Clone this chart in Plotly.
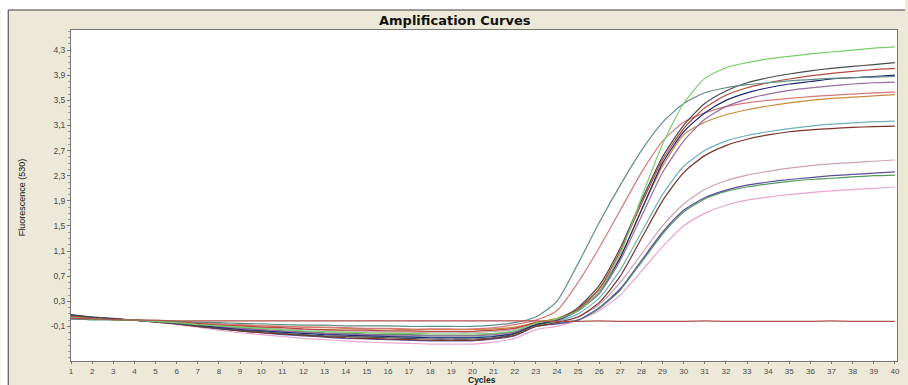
import plotly.graph_objects as go

cycles = list(range(1, 41))

green = [0.04, 0.02, 0.01, 0, -.02, -.04, -.07, -.09, -.11, -.13, -.15, -.17, -.18, -.19, -.20, -.21, -.21, -.22, -.22, -.22, -.21, -.17,
         -0.05, 0.02, 0.15, 0.45, 1.05, 1.95, 2.8, 3.45, 3.85, 4.02, 4.1, 4.16, 4.2, 4.24, 4.27, 4.3, 4.33, 4.35]
dark_gray = [0.08, 0.05, 0.02, 0, -.02, -.05, -.09, -.13, -.16, -.18, -.21, -.23, -.25, -.26, -.27, -.28, -.29, -.30, -.30, -.30, -.28, -.22,
             -0.08, 0.0, 0.2, 0.55, 1.15, 1.9, 2.6, 3.1, 3.45, 3.65, 3.78, 3.86, 3.92, 3.97, 4.01, 4.04, 4.07, 4.10]
red = [0.06, 0.04, 0.02, 0, -.01, -.03, -.05, -.08, -.09, -.11, -.12, -.14, -.15, -.16, -.16, -.17, -.17, -.18, -.18, -.18, -.16, -.13,
       -0.04, 0.02, 0.18, 0.5, 1.1, 1.85, 2.55, 3.05, 3.38, 3.58, 3.7, 3.78, 3.84, 3.89, 3.93, 3.96, 3.99, 4.01]
gray_teal = [0.02, 0.01, 0.01, 0, -.01, -.02, -.03, -.04, -.05, -.06, -.07, -.08, -.08, -.09, -.09, -.09, -.10, -.10, -.10, -.10, -.08, -.04,
             0.05, 0.3, 0.9, 1.55, 2.15, 2.7, 3.15, 3.45, 3.62, 3.7, 3.75, 3.78, 3.81, 3.83, 3.85, 3.86, 3.87, 3.88]
navy = [0.09, 0.05, 0.03, 0, -.02, -.05, -.08, -.12, -.15, -.17, -.19, -.21, -.23, -.24, -.25, -.26, -.27, -.28, -.28, -.28, -.26, -.21,
        -0.07, 0.0, 0.15, 0.45, 1.0, 1.75, 2.5, 3.0, 3.3, 3.5, 3.62, 3.7, 3.76, 3.8, 3.84, 3.86, 3.88, 3.9]
mauve = [0.05, 0.03, 0.02, 0, -.02, -.05, -.08, -.11, -.13, -.15, -.17, -.19, -.21, -.22, -.23, -.24, -.24, -.25, -.25, -.25, -.23, -.19,
         -0.06, 0.0, 0.15, 0.42, 0.95, 1.65, 2.35, 2.85, 3.2, 3.4, 3.52, 3.6, 3.66, 3.7, 3.73, 3.76, 3.78, 3.79]
salmon = [0.03, 0.02, 0.01, 0, -.01, -.03, -.04, -.06, -.07, -.09, -.10, -.11, -.11, -.12, -.13, -.13, -.14, -.14, -.14, -.14, -.12, -.07,
          0.0, 0.15, 0.6, 1.15, 1.75, 2.35, 2.85, 3.15, 3.3, 3.4, 3.46, 3.5, 3.53, 3.56, 3.58, 3.6, 3.62, 3.63]
orange = [0.04, 0.02, 0.01, 0, -.01, -.03, -.05, -.06, -.08, -.09, -.10, -.11, -.12, -.13, -.14, -.14, -.15, -.15, -.15, -.15, -.14, -.11,
          -0.04, 0.03, 0.17, 0.5, 1.0, 1.75, 2.45, 2.95, 3.15, 3.27, 3.35, 3.41, 3.46, 3.5, 3.53, 3.55, 3.57, 3.59]
teal = [0.02, 0.01, 0.01, 0, -.02, -.05, -.08, -.11, -.14, -.16, -.19, -.21, -.22, -.23, -.25, -.25, -.26, -.27, -.27, -.27, -.25, -.21,
        -0.08, -0.02, 0.1, 0.35, 0.8, 1.4, 2.0, 2.45, 2.7, 2.85, 2.94, 3.0, 3.05, 3.09, 3.12, 3.14, 3.16, 3.17]
dark_brown = [0.05, 0.03, 0.02, 0, -.03, -.06, -.10, -.13, -.17, -.20, -.22, -.24, -.26, -.28, -.29, -.30, -.31, -.32, -.32, -.32, -.29, -.24,
              -0.1, -0.04, 0.05, 0.28, 0.7, 1.3, 1.9, 2.35, 2.62, 2.78, 2.88, 2.95, 3.0, 3.03, 3.05, 3.07, 3.08, 3.09]
light_mauve = [0.03, 0.02, 0.01, 0, -.02, -.04, -.06, -.08, -.10, -.12, -.14, -.15, -.16, -.17, -.18, -.19, -.19, -.20, -.20, -.20, -.18, -.15,
               -0.06, -0.03, 0.05, 0.25, 0.6, 1.05, 1.5, 1.85, 2.08, 2.22, 2.31, 2.37, 2.42, 2.46, 2.49, 2.51, 2.53, 2.55]
purple = [0.07, 0.04, 0.02, 0, -.03, -.06, -.10, -.14, -.17, -.20, -.23, -.25, -.27, -.29, -.30, -.31, -.32, -.33, -.33, -.33, -.30, -.25,
          -0.1, -0.06, 0.0, 0.2, 0.5, 0.95, 1.4, 1.75, 1.95, 2.07, 2.15, 2.2, 2.24, 2.27, 2.3, 2.32, 2.34, 2.36]
green2 = [0.02, 0.01, 0.01, 0, -.02, -.04, -.07, -.10, -.12, -.15, -.17, -.18, -.20, -.21, -.22, -.23, -.23, -.24, -.24, -.24, -.22, -.18,
          -0.08, -0.04, 0.0, 0.18, 0.48, 0.92, 1.37, 1.72, 1.93, 2.05, 2.12, 2.17, 2.21, 2.24, 2.26, 2.28, 2.3, 2.31]
pink = [0.06, 0.04, 0.02, 0, -.03, -.07, -.11, -.16, -.20, -.23, -.26, -.29, -.31, -.33, -.35, -.36, -.37, -.38, -.38, -.38, -.35, -.29,
        -0.15, -0.1, 0.0, 0.15, 0.4, 0.78, 1.17, 1.5, 1.7, 1.83, 1.91, 1.96, 2.0, 2.03, 2.06, 2.08, 2.1, 2.12]
flat = [0.03, 0.02, 0.01, 0.0, 0.0, -0.01, -0.01, -0.01, -0.01, -0.01, -0.01, -0.01, -0.01, -0.01, -0.01, -0.01, -0.01, -0.01, -0.01, -0.01,
        -0.01, -0.01, -0.01, -0.02, -0.02, -0.01, -0.02, -0.02, -0.02, -0.02, -0.01, -0.02, -0.02, -0.02, -0.02, -0.02, -0.01, -0.02, -0.02, -0.02]

series = [
    (pink, '#eaa6cf'), (light_mauve, '#c9a3b4'), (green2, '#4f9a5c'), (purple, '#5a4f9c'),
    (dark_brown, '#7b3328'), (teal, '#6fb1b8'), (orange, '#c98a3a'), (salmon, '#d6787a'),
    (mauve, '#9a6aa0'), (navy, '#1e2a78'), (red, '#b5493d'), (dark_gray, '#4a4a4a'),
    (gray_teal, '#5e8c86'), (green, '#7ccd6e'), (flat, '#b0504a'),
]

y_ticks = [-0.1, 0.3, 0.7, 1.1, 1.5, 1.9, 2.3, 2.7, 3.1, 3.5, 3.9, 4.3]

fig = go.Figure()
for vals, col in series:
    fig.add_trace(go.Scatter(x=cycles, y=vals, mode='lines',
                             line=dict(color=col, width=1.2, shape='spline', smoothing=0.6),
                             hoverinfo='skip'))

W, H = 908, 385
L, R, T, B = 71, 8, 30, 24
pw, ph = W - L - R, H - T - B

def px(x):
    return (x - L) / pw

def py(y):
    return (H - B - y) / ph

beige = '#ece9d8'
fig.update_layout(
    width=W, height=H,
    margin=dict(l=L, r=R, t=T, b=B),
    paper_bgcolor=beige, plot_bgcolor='white',
    showlegend=False,
    separators=',.',
    xaxis=dict(range=[1, 40.1], tickmode='array', tickvals=cycles, ticktext=[str(c) for c in cycles],
               ticks='outside', ticklen=2, tickcolor='#777', showgrid=False, zeroline=False,
               showline=True, linecolor='#777', linewidth=1, mirror=True, ticklabelstandoff=0,
               tickfont=dict(family='Liberation Sans', size=8, color='#4a4a4a')),
    yaxis=dict(range=[-0.65, 4.62], tickmode='array', tickvals=y_ticks,
               ticktext=[f'{v:.1f}'.replace('.', ',') for v in y_ticks],
               ticks='outside', ticklen=3, tickcolor='#777', showgrid=False, zeroline=False,
               showline=True, linecolor='#777', linewidth=1, mirror=True,
               minor=dict(ticks='outside', ticklen=2, tickcolor='#999', dtick=0.1, tick0=-0.1),
               tickfont=dict(family='Liberation Sans', size=8.5, color='#4a4a4a')),
    shapes=[
        dict(type='rect', xref='paper', yref='paper', x0=px(0), x1=px(W), y0=py(10), y1=py(0),
             fillcolor='white', line=dict(width=0), layer='below'),
        dict(type='rect', xref='paper', yref='paper', x0=px(0), x1=px(8), y0=py(H), y1=py(0),
             fillcolor='white', line=dict(width=0), layer='below'),
        dict(type='line', xref='paper', yref='paper', x0=px(8), x1=px(W), y0=py(10), y1=py(10),
             line=dict(color='#3c3c3c', width=1)),
        dict(type='line', xref='paper', yref='paper', x0=px(8), x1=px(8), y0=py(10), y1=py(H),
             line=dict(color='#3c3c3c', width=1)),
    ],
    annotations=[
        dict(text='<b>Amplification Curves</b>', xref='paper', yref='paper', x=px(456), y=py(20),
             xanchor='center', yanchor='middle', showarrow=False,
             font=dict(family='DejaVu Sans', size=13, color='#111')),
        dict(text='<b>Cycles</b>', xref='paper', yref='paper', x=px(483), y=py(380.5),
             xanchor='center', yanchor='middle', showarrow=False,
             font=dict(family='Liberation Sans', size=8.5, color='#222')),
        dict(text='Fluorescence (530)', xref='paper', yref='paper', x=px(22), y=py(197),
             xanchor='center', yanchor='middle', showarrow=False, textangle=-90,
             font=dict(family='Liberation Sans Narrow, Liberation Sans', size=9, color='#111')),
    ],
)

fig.write_html('out.html', config={'displayModeBar': False},
               post_script="document.body.style.margin='0';document.body.style.overflow='hidden';")
